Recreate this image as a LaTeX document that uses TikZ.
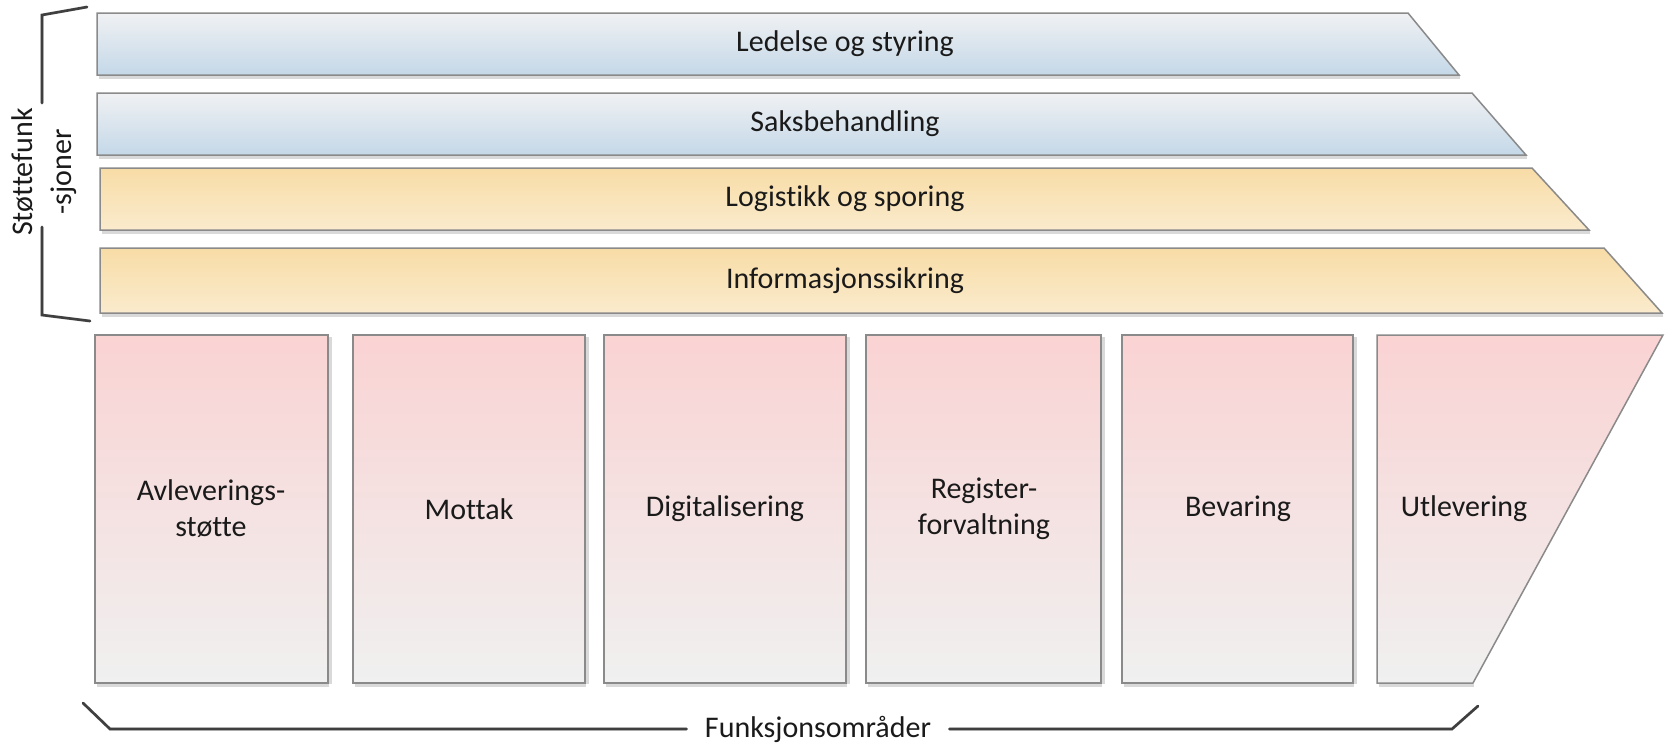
\documentclass[tikz,border=0pt]{standalone}
\usepackage{fontspec}
\setmainfont{Carlito}[Ligatures={NoCommon,NoRare,NoContextual}]
\usetikzlibrary{calc}
\definecolor{edgegray}{HTML}{8A8A8A}
\definecolor{blueTop}{HTML}{F0F1F3}
\definecolor{blueBot}{HTML}{C4D8E8}
\definecolor{orTop}{HTML}{F8DCA6}
\definecolor{orBot}{HTML}{FAEBCD}
\definecolor{pkTop}{HTML}{FAD3D3}
\definecolor{pkMid}{HTML}{F6E0E0}
\definecolor{pkBot}{HTML}{F0F0F0}
\definecolor{brk}{HTML}{3F3F3F}
\definecolor{txt}{HTML}{1A1A1A}
\begin{document}
\begin{tikzpicture}[x=0.5pt,y=-0.5pt,
  outl/.style={draw=edgegray, line width=0.75pt},
  shadowline/.style={draw=black!15, line width=1.5pt},
  txtstyle/.style={font=\fontsize{15}{18}\selectfont, text=txt, align=center, inner sep=0pt},
  bracketline/.style={draw=brk, line width=1.3pt, line join=miter, line cap=round},
  bracketshadow/.style={draw=black!15, line width=1.5pt, line join=miter, line cap=round}]
\useasboundingbox (0,0) rectangle (1665,746);

% ---- horizontal bands (support functions)
\foreach \ya/\yb/\xl/\xt/\xb/\ct/\cb in {13/75/97/1408/1459/blueTop/blueBot,
    93/155/97/1472/1526/blueTop/blueBot,
    168/230/100/1532/1589/orTop/orBot,
    248/313/100/1604/1662/orTop/orBot}{
  \draw[shadowline] (\xl+2,\yb+2) -- (\xb+1,\yb+2);
  \shade[top color=\ct, bottom color=\cb, outl]
    (\xl,\ya) -- (\xt,\ya) -- (\xb,\yb) -- (\xl,\yb) -- cycle;
}
\node[txtstyle] (b1) at (845,44) {Ledelse og styring};
\node[txtstyle] (b2) at (845,124) {Saksbehandling};
\node[txtstyle] (b3) at (845,199) {Logistikk og sporing};
\node[txtstyle] (b4) at (845,281) {Informasjonssikring};

% ---- function area boxes
\foreach \xl/\xr in {95/328, 353/585, 604/846, 866/1101, 1122/1353}{
  \draw[shadowline] (\xl+2,685) -- (\xr+1,685);
  \draw[shadowline] (\xr+2,337) -- (\xr+2,684);
  \shade[top color=pkTop, middle color=pkMid, bottom color=pkBot, outl]
    (\xl,335) rectangle (\xr,683);
}
\draw[shadowline] (1379,685) -- (1474,685);
\shade[top color=pkTop, middle color=pkMid, bottom color=pkBot, outl]
  (1377,335) -- (1663,335) -- (1473,683) -- (1377,683) -- cycle;

\node[txtstyle] (f1) at (211,509) {Avleverings-\\støtte};
\node[txtstyle] (f2) at (469,509) {Mottak};
\node[txtstyle] (f3) at (725,509) {Digitalisering};
\node[txtstyle] (f4) at (984,509) {Register-\\forvaltning};
\node[txtstyle] (f5) at (1238,509) {Bevaring};
\node[txtstyle] (f6) at (1464,509) {Utlevering};

% ---- left bracket
\coordinate (lt1) at (87,7);
\coordinate (lt2) at (42,15);
\coordinate (lt3) at (42,103);
\coordinate (lb1) at (42,227);
\coordinate (lb2) at (42,315);
\coordinate (lb3) at (90,321);
\draw[bracketshadow, shift={(1.5,2)}] (lt1) -- (lt2) -- (lt3);
\draw[bracketshadow, shift={(1.5,2)}] (lb1) -- (lb2) -- (lb3);
\draw[bracketline] (lt1) -- (lt2) -- (lt3);
\draw[bracketline] (lb1) -- (lb2) -- (lb3);
\node[txtstyle, rotate=90, font=\fontsize{15}{19.5}\selectfont] (st) at (44,172) {Støttefunk\\-sjoner};

% ---- bottom bracket
\node[txtstyle, inner xsep=9pt] (fo) at (818,729) {Funksjonsområder};
\coordinate (bl1) at (83,703);
\coordinate (bl2) at (110,729);
\coordinate (br2) at (1452,729);
\coordinate (br1) at (1478,706);
\draw[bracketshadow, shift={(1.5,2)}] (bl1) -- (bl2) -- (bl2 -| fo.west);
\draw[bracketshadow, shift={(1.5,2)}] (br2 -| fo.east) -- (br2) -- (br1);
\draw[bracketline] (bl1) -- (bl2) -- (bl2 -| fo.west);
\draw[bracketline] (br2 -| fo.east) -- (br2) -- (br1);
\end{tikzpicture}
\end{document}
